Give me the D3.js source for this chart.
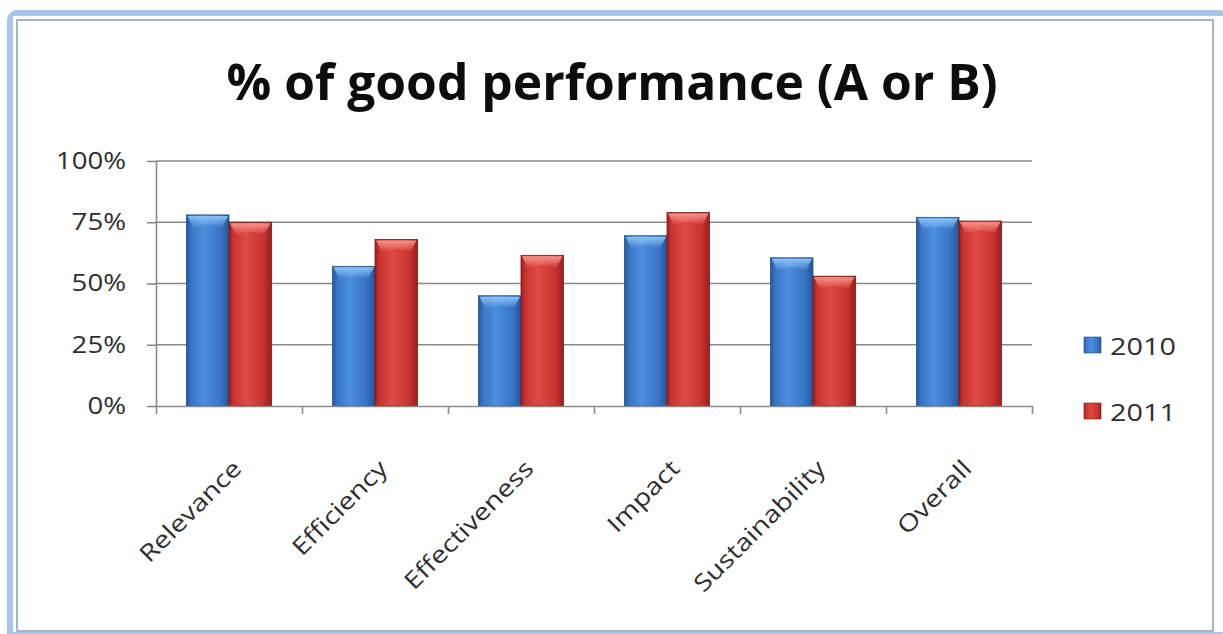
<!DOCTYPE html>
<html>
<head>
<meta charset="utf-8">
<script src="https://cdn.jsdelivr.net/npm/d3@7"></script>
<style>
  body { margin: 0; background: #fff; }
  svg { display: block; font-family: "Open Sans", sans-serif; }
</style>
</head>
<body>
<script>
const categories = ["Relevance", "Efficiency", "Effectiveness", "Impact", "Sustainability", "Overall"];
const seriesNames = ["2010", "2011"];
const values2010 = [0.78, 0.57, 0.45, 0.695, 0.605, 0.77];
const values2011 = [0.75, 0.68, 0.615, 0.79, 0.53, 0.755];
const yTicks = [0, 0.25, 0.5, 0.75, 1];
const titleText = "% of good performance (A or B)";

const W = 1223, H = 634;
const plot = { left: 156, right: 1032, top: 161, bottom: 406 };

const colors = {
    "2010": { dark: "#23569c", mid: "#3774c4", light: "#4d8fe0", top: "#8cc2f5", line: "#244f8c" },
    "2011": { dark: "#9a1f1c", mid: "#c93330", light: "#de4a44", top: "#f8938a", line: "#7e1a18" }
};

// widen glyphs a bit, the source picture is stretched sideways
const stretch = (sel, k) => sel.each(function () {
    const len = this.getComputedTextLength();
    d3.select(this).attr("textLength", len * k).attr("lengthAdjust", "spacingAndGlyphs");
});

const svg = d3.select("body").append("svg").attr("width", W).attr("height", H);

// frame
svg.append("rect").attr("x", 7).attr("y", 10).attr("width", W).attr("height", H)
    .attr("rx", 10).attr("fill", "#a7c4ea");
svg.append("rect").attr("x", 13).attr("y", 16).attr("width", W - 13).attr("height", H - 16 - 2)
    .attr("fill", "#fbfcfe");
svg.append("rect").attr("x", 17).attr("y", 20).attr("width", 1196).attr("height", 611)
    .attr("fill", "#fff").attr("stroke", "#8d9ab0").attr("stroke-width", 1.5);

// gradients
const defs = svg.append("defs");
seriesNames.forEach(s => {
    const c = colors[s];
    const g = defs.append("linearGradient").attr("id", "bar" + s)
        .attr("x1", 0).attr("x2", 1).attr("y1", 0).attr("y2", 0);
    [[0, c.dark], [0.1, c.mid], [0.4, c.light], [0.8, c.mid], [1, c.dark]]
        .forEach(([o, col]) => g.append("stop").attr("offset", o).attr("stop-color", col));
    const t = defs.append("linearGradient").attr("id", "cap" + s)
        .attr("x1", 0).attr("x2", 0).attr("y1", 0).attr("y2", 1);
    t.append("stop").attr("offset", 0).attr("stop-color", c.top).attr("stop-opacity", 1);
    t.append("stop").attr("offset", 1).attr("stop-color", c.top).attr("stop-opacity", 0);
});

const x0 = d3.scaleBand().domain(categories).range([plot.left, plot.right]);
const x1 = d3.scaleBand().domain(seriesNames).range([0, x0.bandwidth()]).paddingOuter(0.72);
const y = d3.scaleLinear().domain([0, 1]).range([plot.bottom, plot.top]);

// gridlines
svg.append("g").selectAll("line").data(yTicks.filter(d => d > 0)).join("line")
    .attr("x1", plot.left).attr("x2", plot.right)
    .attr("y1", d => y(d)).attr("y2", d => y(d))
    .attr("stroke", "#8a8a8a").attr("stroke-width", 1.6);

// bars
const rows = categories.map((c, i) => ({ cat: c, vals: [values2010[i], values2011[i]] }));
const groups = svg.append("g").selectAll("g").data(rows).join("g")
    .attr("transform", d => `translate(${x0(d.cat)},0)`);

const bars = groups.selectAll("g").data(d => seriesNames.map((s, j) => ({ s, v: d.vals[j] }))).join("g");
bars.append("rect")
    .attr("x", d => x1(d.s)).attr("y", d => y(d.v))
    .attr("width", x1.bandwidth()).attr("height", d => y(0) - y(d.v))
    .attr("fill", d => `url(#bar${d.s})`)
    .attr("stroke", d => colors[d.s].line).attr("stroke-width", 0.8);
bars.append("path")
    .attr("d", d => {
        const xl = x1(d.s) + 1, xr = x1(d.s) + x1.bandwidth() - 1, yt = y(d.v) + 1;
        const w = xr - xl;
        return `M${xl},${yt} L${xr},${yt} L${xr - w * 0.15},${yt + 12} Q${xl + w / 2},${yt + 5} ${xl + w * 0.15},${yt + 12} Z`;
    })
    .attr("fill", d => `url(#cap${d.s})`);

// y axis
const yAxis = svg.append("g").attr("transform", `translate(${plot.left},0)`)
    .call(d3.axisLeft(y).tickValues(yTicks).tickFormat(d3.format(".0%"))
        .tickSize(9).tickSizeOuter(0).tickPadding(21));
yAxis.select(".domain").attr("stroke", "#8a8a8a").attr("stroke-width", 1.6);
yAxis.selectAll(".tick line").attr("stroke", "#8a8a8a").attr("stroke-width", 1.6);
yAxis.selectAll(".tick text").attr("font-family", "Open Sans").attr("font-size", 23)
    .attr("fill", "#2e2e2e").call(stretch, 1.2);

// x axis (ticks between categories)
const xTick = d3.scaleLinear().domain([0, categories.length]).range([plot.left, plot.right]);
const xAxis = svg.append("g").attr("transform", `translate(0,${plot.bottom})`)
    .call(d3.axisBottom(xTick).ticks(categories.length).tickFormat("").tickSize(8).tickSizeOuter(0));
xAxis.select(".domain").attr("stroke", "#8a8a8a").attr("stroke-width", 1.6);
xAxis.selectAll(".tick line").attr("stroke", "#8a8a8a").attr("stroke-width", 1.6);

svg.append("g").selectAll("text").data(categories).join("text")
    .attr("transform", d => `translate(${x0(d) + x0.bandwidth() / 2 + 14},470) rotate(-45)`)
    .attr("text-anchor", "end")
    .attr("font-size", 23.5).attr("fill", "#2e2e2e")
    .text(d => d)
    .call(stretch, 1.2);

// title
svg.append("text")
    .attr("x", 612).attr("y", 100)
    .attr("text-anchor", "middle")
    .attr("font-size", 51).attr("font-weight", 700).attr("fill", "#0d0d0d")
    .text(titleText)
    .call(sel => sel.attr("textLength", 771).attr("lengthAdjust", "spacingAndGlyphs"));

// legend
const legend = svg.append("g").selectAll("g").data(seriesNames).join("g")
    .attr("transform", (d, i) => `translate(1084,${337 + i * 66})`);
legend.append("rect").attr("width", 17).attr("height", 16)
    .attr("fill", d => `url(#bar${d})`).attr("stroke", d => colors[d].line).attr("stroke-width", 0.6);
legend.append("text").attr("x", 26).attr("y", 18)
    .attr("font-size", 24).attr("fill", "#2e2e2e")
    .text(d => d)
    .call(stretch, 1.2);
</script>
</body>
</html>
